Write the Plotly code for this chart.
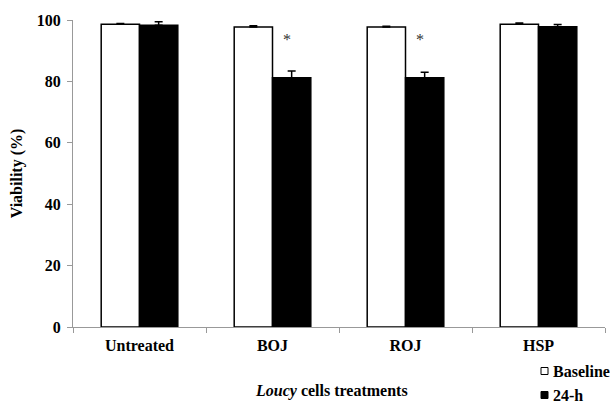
import plotly.graph_objects as go

categories = ["Untreated", "BOJ", "ROJ", "HSP"]
baseline = [98.6, 97.7, 97.7, 98.6]
baseline_err = [0.3, 0.4, 0.3, 0.4]
h24 = [98.3, 81.2, 81.2, 97.8]
h24_err = [1.1, 2.2, 1.8, 0.7]
star_cats = ["BOJ", "ROJ"]
star_y = [93.5, 93.5]
y_ticks = [0, 20, 40, 60, 80, 100]

W, H = 610, 405
L, R, T, B = 73, 5, 20, 78
FONT = "'Liberation Serif', 'Times New Roman', Times, serif"

def px_x(px):
    return (px - L) / (W - L - R)

def px_y(py):
    return (H - B - py) / (H - T - B)

fig = go.Figure()
fig.add_trace(go.Bar(
    x=categories, y=baseline, name="Baseline",
    marker=dict(color="white", line=dict(color="black", width=1.5)),
    error_y=dict(type="data", array=baseline_err, arrayminus=[0]*4,
                 color="black", thickness=1.5, width=4),
))
fig.add_trace(go.Bar(
    x=categories, y=h24, name="24-h",
    marker=dict(color="black", line=dict(color="black", width=1.5)),
    error_y=dict(type="data", array=h24_err, arrayminus=[0]*4,
                 color="black", thickness=1.5, width=4),
))

for c, yv in zip(star_cats, star_y):
    fig.add_annotation(x=c, y=yv, xref="x", yref="y", text="*", showarrow=False,
                       xshift=14, font=dict(family=FONT, size=16, color="#333333"))

# legend drawn manually
legend_items = [("Baseline", "white", 371), ("24-h", "black", 395)]
for name, col, py in legend_items:
    fig.add_shape(type="rect", xref="paper", yref="paper",
                  x0=px_x(541), x1=px_x(548), y0=px_y(py + 3.5), y1=px_y(py - 3.5),
                  fillcolor=col, line=dict(color="black", width=1))
    fig.add_annotation(xref="paper", yref="paper", x=px_x(551), y=px_y(py),
                       xanchor="left", yanchor="middle", text=name, showarrow=False,
                       font=dict(family=FONT, size=16, color="black", weight="bold"))

fig.add_annotation(xref="paper", yref="paper", x=px_x(331), y=px_y(391),
                   xanchor="center", yanchor="middle",
                   text="<i>Loucy</i> cells treatments", showarrow=False,
                   font=dict(family=FONT, size=16, color="black", weight="bold"))

fig.update_layout(
    width=W, height=H,
    margin=dict(l=L, r=R, t=T, b=B),
    paper_bgcolor="white", plot_bgcolor="white",
    barmode="group", bargap=0.424, bargroupgap=0,
    showlegend=False,
    font=dict(family=FONT, size=16, color="black"),
    xaxis=dict(
        showline=True, linecolor="#999", linewidth=1,
        ticks="outside", tickson="boundaries", ticklen=5, tickcolor="#999",
        tickfont=dict(family=FONT, size=16, color="black", weight="bold"),
        ticklabelstandoff=4,
        showgrid=False, zeroline=False,
    ),
    yaxis=dict(
        range=[0, 100], tickvals=y_ticks,
        showline=True, linecolor="#999", linewidth=1,
        ticks="outside", ticklen=5, tickcolor="#999",
        tickfont=dict(family=FONT, size=16, color="black", weight="bold"),
        ticklabelstandoff=3,
        showgrid=False, zeroline=False,
        title=dict(text="Viability (%)", standoff=10,
                   font=dict(family=FONT, size=16, color="black", weight="bold")),
        automargin=False,
    ),
)
fig.update_traces(cliponaxis=False)

fig.write_html("out.html", config={"displayModeBar": False},
               post_script="document.body.style.margin='0';document.body.style.padding='0';")
